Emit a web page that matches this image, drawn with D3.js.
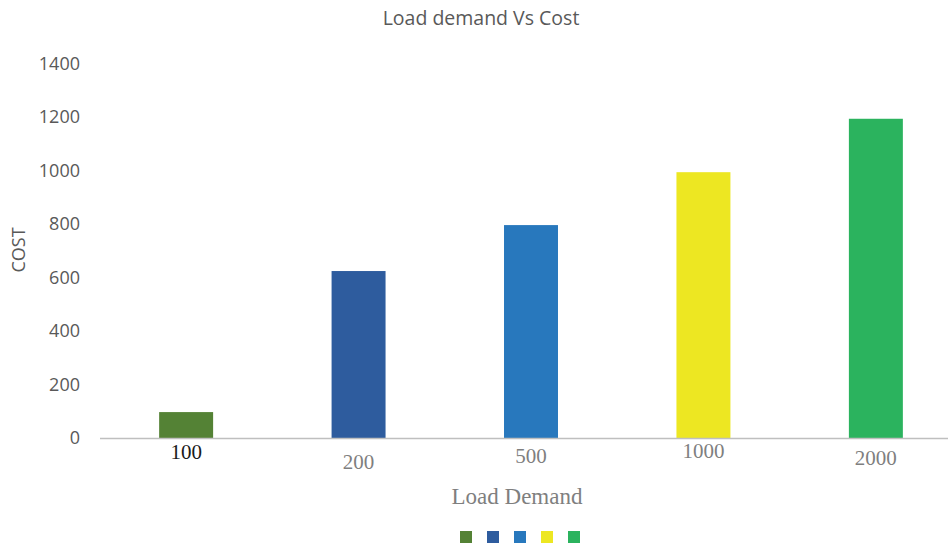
<!DOCTYPE html>
<html>
<head>
<meta charset="utf-8">
<script src="https://d3js.org/d3.v7.min.js"></script>
<style>
  body { margin: 0; background: #fff; }
</style>
</head>
<body>
<div id="chart"></div>
<script>
// data
var categories = ["100", "200", "500", "1000", "2000"];
var costs = [97, 625, 797, 995, 1195];
var yTicks = [0, 200, 400, 600, 800, 1000, 1200, 1400];
var barColors = ["#548235", "#2E5C9E", "#2878BD", "#EDE722", "#2BB35E"];

// label quirks of the original (vertical nudge of each x label)
var labelNudge = [0, 10, 4, -1, 6];

var width = 952, height = 548;

var svg = d3.select('#chart')
            .append('svg')
            .attr('width', width)
            .attr('height', height);

var x = d3.scaleBand()
          .domain(categories)
          .range([100, 962])
          .paddingInner(0.687)
          .paddingOuter(0.343);

var y = d3.scaleLinear()
          .domain([0, 1400])
          .range([438, 64]);

// title
svg.append('text')
   .attr('x', 481).attr('y', 25)
   .attr('text-anchor', 'middle')
   .attr('font-family', 'Open Sans, sans-serif')
   .attr('font-size', 19.5)
   .attr('fill', '#595959')
   .text('Load demand Vs Cost');

// y tick labels
svg.selectAll('.ytick')
   .data(yTicks)
   .enter().append('text')
   .attr('class', 'ytick')
   .attr('x', 80)
   .attr('y', function(d) { return y(d) + 6; })
   .attr('text-anchor', 'end')
   .attr('font-family', 'Open Sans, sans-serif')
   .attr('font-size', 18)
   .attr('fill', '#595959')
   .text(function(d) { return d; });

// y title
svg.append('text')
   .attr('transform', 'translate(25,250) rotate(-90)')
   .attr('text-anchor', 'middle')
   .attr('font-family', 'Open Sans, sans-serif')
   .attr('font-size', 18)
   .attr('fill', '#595959')
   .text('COST');

// bars
svg.selectAll('.bar')
   .data(costs)
   .enter().append('rect')
   .attr('class', 'bar')
   .attr('x', function(d, i) { return x(categories[i]); })
   .attr('width', x.bandwidth())
   .attr('y', function(d) { return y(d); })
   .attr('height', function(d) { return y(0) - y(d); })
   .attr('fill', function(d, i) { return barColors[i]; });

// baseline
svg.append('line')
   .attr('x1', 100).attr('x2', 948)
   .attr('y1', y(0) + 0.5).attr('y2', y(0) + 0.5)
   .attr('stroke', '#bfbfbf')
   .attr('stroke-width', 1.5);

// x tick labels
svg.selectAll('.xtick')
   .data(categories)
   .enter().append('text')
   .attr('class', 'xtick')
   .attr('x', function(d) { return x(d) + x.bandwidth() / 2; })
   .attr('y', function(d, i) { return 459 + labelNudge[i]; })
   .attr('text-anchor', 'middle')
   .attr('font-family', 'Liberation Serif, serif')
   .attr('font-size', 21)
   .attr('fill', function(d, i) { return i == 0 ? '#1a1a1a' : '#7f7f7f'; })
   .text(function(d) { return d; });

// x title
svg.append('text')
   .attr('x', 517).attr('y', 504)
   .attr('text-anchor', 'middle')
   .attr('font-family', 'Liberation Serif, serif')
   .attr('font-size', 23)
   .attr('fill', '#7f7f7f')
   .text('Load Demand');

// legend swatches
var legendX = d3.scalePoint()
                .domain(categories)
                .range([466, 574]);

svg.selectAll('.swatch')
   .data(categories)
   .enter().append('rect')
   .attr('class', 'swatch')
   .attr('x', function(d) { return legendX(d) - 6; })
   .attr('y', 531)
   .attr('width', 12)
   .attr('height', 12)
   .attr('fill', function(d, i) { return barColors[i]; });
</script>
</body>
</html>
